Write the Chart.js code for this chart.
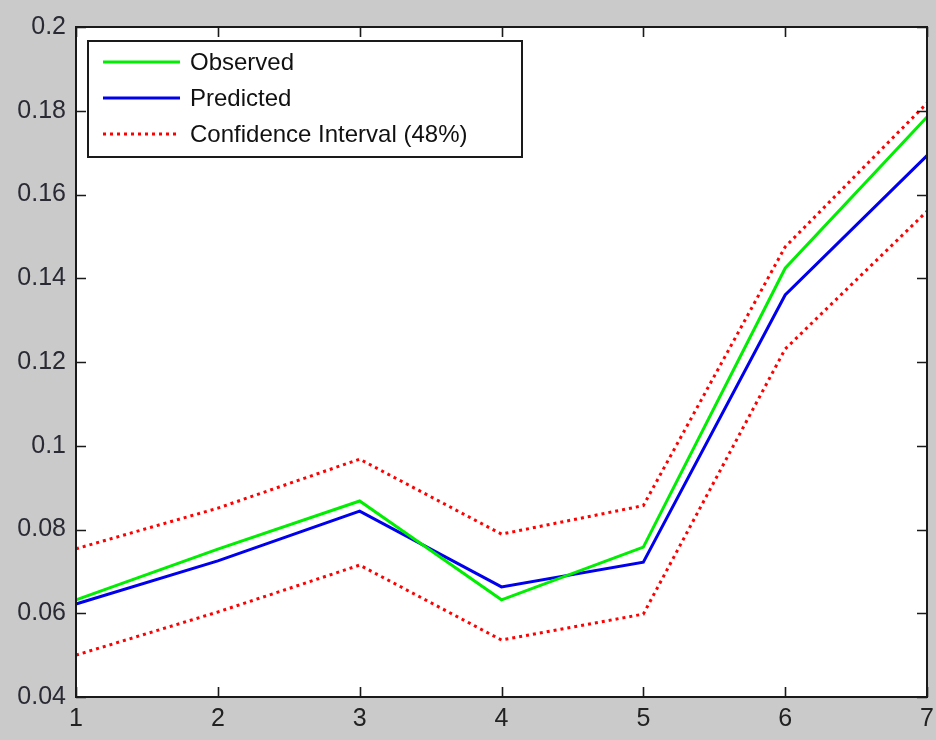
<!DOCTYPE html>
<html>
<head>
<meta charset="utf-8">
<script src="https://cdn.jsdelivr.net/npm/chart.js@4"></script>
<style>
  html, body { margin: 0; padding: 0; background: #cacaca; }
  #wrap { width: 936px; height: 740px; }
</style>
</head>
<body>
<div id="wrap"><canvas id="c" width="936" height="740"></canvas></div>
<script>
// Sample index along the x axis
const categories = ['1', '2', '3', '4', '5', '6', '7'];

// Series values
const observed  = [0.0632, 0.0753, 0.0868, 0.0632, 0.0758, 0.1424, 0.1785];
const predicted = [0.0622, 0.0725, 0.0844, 0.0663, 0.0722, 0.1360, 0.1693];
const ciUpper   = [0.0754, 0.0851, 0.0968, 0.0789, 0.0857, 0.1475, 0.1818];
const ciLower   = [0.0500, 0.0603, 0.0715, 0.0536, 0.0598, 0.1231, 0.1560];

// Y axis ticks
const yTicks = [0.04, 0.06, 0.08, 0.1, 0.12, 0.14, 0.16, 0.18, 0.2];

const FONT = "'Liberation Sans', Arial, sans-serif";
const FIG_BG = '#cacaca';
const TICK_LEN = 10;

// Figure background and white axes area
const backdrop = {
  id: 'backdrop',
  beforeDraw(chart) {
    const { ctx, chartArea: a } = chart;
    ctx.save();
    ctx.fillStyle = FIG_BG;
    ctx.fillRect(0, 0, chart.width, chart.height);
    ctx.fillStyle = '#ffffff';
    ctx.fillRect(a.left, a.top, a.right - a.left, a.bottom - a.top);
    ctx.restore();
  }
};

// Axes box with inward tick marks on all four sides
const axesBox = {
  id: 'axesBox',
  afterDatasetsDraw(chart) {
    const { ctx, chartArea: a, scales } = chart;
    ctx.save();
    ctx.strokeStyle = '#1a1a1a';
    ctx.lineWidth = 2;
    ctx.beginPath();
    ctx.rect(a.left, a.top, a.right - a.left, a.bottom - a.top);
    ctx.stroke();
    ctx.lineWidth = 1.6;
    ctx.beginPath();
    scales.y.ticks.forEach(t => {
      const y = Math.round(scales.y.getPixelForValue(t.value)) + 0.5;
      ctx.moveTo(a.left, y); ctx.lineTo(a.left + TICK_LEN, y);
      ctx.moveTo(a.right, y); ctx.lineTo(a.right - TICK_LEN, y);
    });
    scales.x.ticks.forEach((t, i) => {
      const x = Math.round(scales.x.getPixelForTick(i)) + 0.5;
      ctx.moveTo(x, a.bottom); ctx.lineTo(x, a.bottom - TICK_LEN);
      ctx.moveTo(x, a.top); ctx.lineTo(x, a.top + TICK_LEN);
    });
    ctx.stroke();
    ctx.restore();
  }
};

// Boxed legend in the upper-left corner of the axes
const boxLegend = {
  id: 'boxLegend',
  afterDraw(chart) {
    const { ctx, chartArea: a } = chart;
    const items = chart.data.datasets.filter(d => !d.hideInLegend);
    const x0 = a.left + 12, y0 = a.top + 14;
    const w = 434, rowH = 36, h = 116;
    ctx.save();
    ctx.fillStyle = '#ffffff';
    ctx.fillRect(x0, y0, w, h);
    ctx.strokeStyle = '#1a1a1a';
    ctx.lineWidth = 2;
    ctx.strokeRect(x0, y0, w, h);
    ctx.font = '24px ' + FONT;
    ctx.textBaseline = 'middle';
    items.forEach((d, i) => {
      const cy = y0 + 21 + i * rowH;
      ctx.strokeStyle = d.borderColor;
      ctx.lineWidth = d.borderWidth;
      ctx.setLineDash(d.borderDash || []);
      ctx.beginPath();
      ctx.moveTo(x0 + 15, cy);
      ctx.lineTo(x0 + 92, cy);
      ctx.stroke();
      ctx.setLineDash([]);
      ctx.fillStyle = '#111111';
      ctx.fillText(d.label, x0 + 102, cy + 1);
    });
    ctx.restore();
  }
};

const ciStyle = {
  borderColor: '#ff0000',
  borderWidth: 3,
  borderDash: [3, 4],
  pointRadius: 0,
  tension: 0,
  fill: false
};

new Chart(document.getElementById('c'), {
  type: 'line',
  data: {
    labels: categories,
    datasets: [
      { label: 'Observed', data: observed, borderColor: '#00ee00', borderWidth: 3, pointRadius: 0, tension: 0 },
      { label: 'Predicted', data: predicted, borderColor: '#0000ee', borderWidth: 3, pointRadius: 0, tension: 0 },
      Object.assign({ label: 'Confidence Interval (48%)', data: ciUpper }, ciStyle),
      Object.assign({ label: 'Confidence Interval (48%)', data: ciLower, hideInLegend: true }, ciStyle)
    ]
  },
  options: {
    responsive: false,
    animation: false,
    events: [],
    layout: { padding: { top: 27, right: 9, left: 0, bottom: 0 } },
    plugins: { legend: { display: false }, tooltip: { enabled: false } },
    scales: {
      x: {
        offset: false,
        grid: { display: false, drawTicks: false },
        border: { display: false },
        ticks: {
          color: '#222222',
          font: { family: FONT, size: 25 },
          padding: 7,
          maxRotation: 0,
          autoSkip: false
        },
        afterFit(scale) {
          scale.height = 43;
          scale.paddingLeft = 0;
          scale.paddingRight = 0;
        }
      },
      y: {
        min: 0.04,
        max: 0.2,
        grid: { display: false, drawTicks: false },
        border: { display: false },
        afterBuildTicks(scale) { scale.ticks = yTicks.map(v => ({ value: v })); },
        ticks: {
          color: '#2a2a35',
          font: { family: FONT, size: 25 },
          padding: 10,
          callback: v => String(parseFloat(Number(v).toFixed(2)))
        },
        afterFit(scale) {
          scale.width = 76;
          scale.paddingTop = 0;
          scale.paddingBottom = 0;
        }
      }
    }
  },
  plugins: [backdrop, axesBox, boxLegend]
});
</script>
</body>
</html>
